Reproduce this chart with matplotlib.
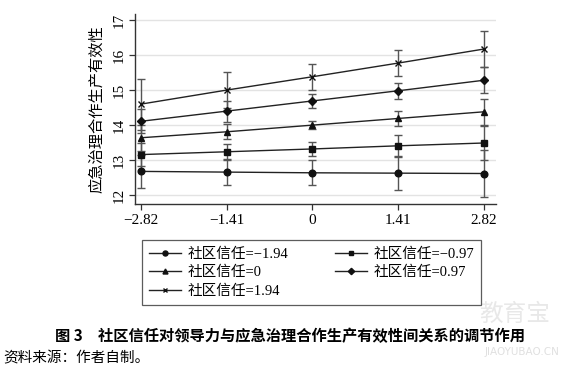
import matplotlib
matplotlib.use("Agg")
import matplotlib.pyplot as plt
from matplotlib.lines import Line2D

plt.rcParams['font.family'] = ['Liberation Serif', 'Noto Sans CJK SC']
plt.rcParams['axes.unicode_minus'] = True

x_vals = [-2.82, -1.41, 0, 1.41, 2.82]
x_labels = ["\u22122.82", "\u22121.41", "0", "1.41", "2.82"]
series_labels = ["社区信任=\u22121.94", "社区信任=\u22120.97", "社区信任=0", "社区信任=0.97", "社区信任=1.94"]
y_m194 = [12.68, 12.66, 12.64, 12.63, 12.62]
y_m097 = [13.16, 13.24, 13.32, 13.41, 13.49]
y_0 = [13.64, 13.81, 14.00, 14.19, 14.38]
y_097 = [14.11, 14.40, 14.69, 14.98, 15.28]
y_194 = [14.60, 15.00, 15.38, 15.77, 16.17]
ci_m194 = [0.48, 0.36, 0.36, 0.49, 0.67]
ci_m097 = [0.32, 0.23, 0.20, 0.32, 0.48]
ci_0 = [0.37, 0.22, 0.12, 0.21, 0.37]
ci_097 = [0.34, 0.30, 0.21, 0.23, 0.37]
ci_194 = [0.73, 0.51, 0.37, 0.36, 0.52]

series = [y_m194, y_m097, y_0, y_097, y_194]
cis = [ci_m194, ci_m097, ci_0, ci_097, ci_194]
markers = ['o', 's', '^', 'D', 'x']
msizes = [4.8, 4.8, 4.8, 4.3, 4.5]

fig = plt.figure(figsize=(5.78, 3.75), dpi=100)
ax = fig.add_axes([135/578, (375-204)/375, 361/578, 190/375])

for yv in [12, 13, 14, 15, 16, 17]:
    ax.axhline(yv, color='#e3e3e3', lw=1.0, zorder=0)

handles = []
for ys, ci, m, ms, lab in zip(series, cis, markers, msizes, series_labels):
    ax.errorbar(x_vals, ys, yerr=ci, fmt='none', ecolor='#555555', elinewidth=1.0,
                capsize=3, capthick=1.0, zorder=2)
    ax.plot(x_vals, ys, color='#222222', lw=1.0, marker=m, ms=ms,
            markerfacecolor='#111111', markeredgecolor='#111111', mew=1.0, zorder=3)
    handles.append(Line2D([0], [0], color='#222222', lw=1.0, marker=m, ms=ms*0.75,
                          markerfacecolor='#111111', markeredgecolor='#111111', label=lab))

ax.set_xlim(-2.92, 3.02)
ax.set_ylim(11.75, 17.17)
ax.set_xticks(x_vals)
ax.set_xticklabels(x_labels, fontsize=11)
ax.set_yticks([12, 13, 14, 15, 16, 17])
ax.set_yticklabels(["12", "13", "14", "15", "16", "17"], fontsize=11, rotation=90, va='center')
for s in ['top', 'right']:
    ax.spines[s].set_visible(False)
for s in ['left', 'bottom']:
    ax.spines[s].set_color('#333333')
    ax.spines[s].set_linewidth(1.0)
ax.tick_params(axis='both', direction='out', length=4, width=0.9, color='#333333', pad=3)
ax.set_ylabel("应急治理合作生产有效性", fontsize=11, labelpad=6)

# row-major order in the legend: reorder for matplotlib's column filling
order = [0, 2, 4, 1, 3]
leg = fig.legend(handles=[handles[i] for i in order], loc='upper left', ncol=2, mode='expand',
                 bbox_to_anchor=(142/578, 60/375, 339/578, 75/375),
                 fontsize=10.5, frameon=True, fancybox=False, handlelength=2.2,
                 handletextpad=0.4, labelspacing=0.35, borderaxespad=0.0,
                 borderpad=0.5, columnspacing=1.0)
leg.get_frame().set_edgecolor('#333333')
leg.get_frame().set_linewidth(0.9)

fig.text(290/578, 1 - 336/375, "图 3　社区信任对领导力与应急治理合作生产有效性间关系的调节作用",
         ha='center', va='center', fontsize=11, fontweight='bold',
         family=['Noto Sans CJK SC', 'DejaVu Sans'])
fig.text(3/578, 1 - 358/375, "资料来源：作者自制。", ha='left', va='center', fontsize=10.5,
         family=['Noto Sans CJK SC', 'DejaVu Sans'])

fig.text(515/578, 1 - 314/375, "教育宝", ha='center', va='center', fontsize=17,
         color='#e8e8e8', family=['Noto Sans CJK SC', 'DejaVu Sans'], zorder=-1)
fig.text(522/578, 1 - 352/375, "JIAOYUBAO.CN", ha='center', va='center', fontsize=7.5,
         color='#e0e0e0', family=['DejaVu Sans'], zorder=-1)

fig.savefig("out.png", dpi=100)
